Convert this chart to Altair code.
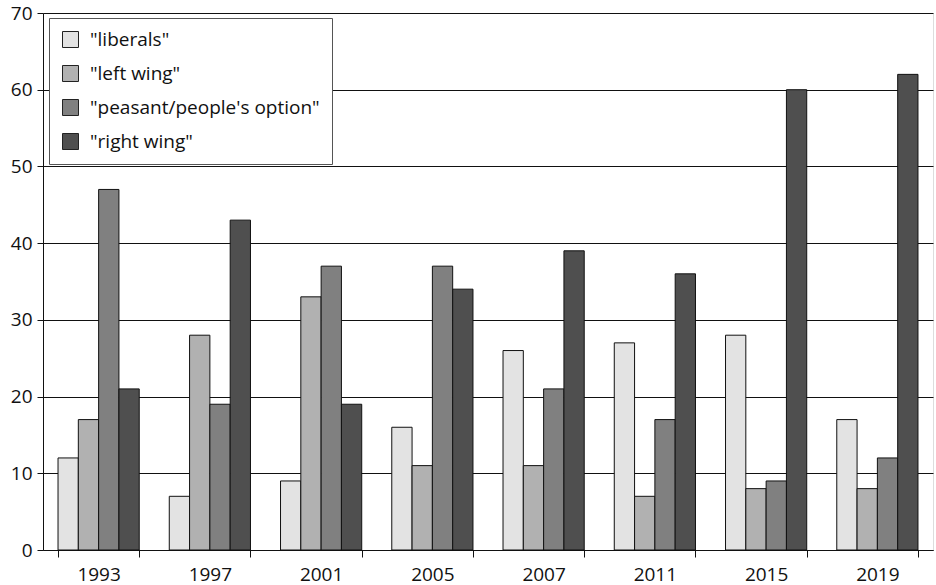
import altair as alt
import pandas as pd

years = ["1993", "1997", "2001", "2005", "2007", "2011", "2015", "2019"]
parties = ['"liberals"', '"left wing"', '"peasant/people\'s option"', '"right wing"']
liberals = [12, 7, 9, 16, 26, 27, 28, 17]
left_wing = [17, 28, 33, 11, 11, 7, 8, 8]
peasant = [47, 19, 37, 37, 21, 17, 9, 12]
right_wing = [21, 43, 19, 34, 39, 36, 60, 62]
colors = ["#e3e3e3", "#b1b1b1", "#808080", "#4f4f4f"]

rows = []
for name, series in zip(parties, [liberals, left_wing, peasant, right_wing]):
    for y, v in zip(years, series):
        rows.append({"year": y, "party": name, "value": v})
df = pd.DataFrame(rows)

FONT = "Open Sans"

chart = (
    alt.Chart(df)
    .mark_bar(stroke="#111111", strokeWidth=1)
    .encode(
        x=alt.X(
            "year:N",
            sort=years,
            title=None,
            scale=alt.Scale(paddingInner=0.27, paddingOuter=0.135),
            axis=alt.Axis(
                labelAngle=0,
                tickBand="extent",
                tickSize=7,
                labelPadding=8,
                labelFontSize=19,
                labelFont=FONT,
                labelColor="#111111",
                domainColor="#111111",
                tickColor="#111111",
            ),
        ),
        xOffset=alt.XOffset("party:N", sort=parties, scale=alt.Scale(paddingInner=0, paddingOuter=0)),
        y=alt.Y(
            "value:Q",
            title=None,
            scale=alt.Scale(domain=[0, 70], nice=False),
            axis=alt.Axis(
                values=[0, 10, 20, 30, 40, 50, 60, 70],
                grid=True,
                gridColor="#111111",
                gridWidth=1,
                tickSize=6,
                labelPadding=5,
                labelFontSize=19,
                labelFont=FONT,
                labelColor="#111111",
                domainColor="#111111",
                tickColor="#111111",
            ),
        ),
        fill=alt.Fill(
            "party:N",
            sort=parties,
            scale=alt.Scale(domain=parties, range=colors),
            legend=alt.Legend(
                title=None,
                orient="none",
                legendX=6,
                legendY=5,
                fillColor="white",
                strokeColor="#555555",
                padding=12,
                symbolType="square",
                symbolSize=256,
                symbolStrokeColor="#222222",
                symbolStrokeWidth=1,
                symbolOpacity=1,
                labelFontSize=19,
                labelFont=FONT,
                labelColor="#111111",
                labelOffset=10,
                rowPadding=13,
                labelLimit=400,
            ),
        ),
    )
    .properties(
        width=890,
        height=537,
        autosize=alt.AutoSizeParams(type="none"),
        padding={"left": 43, "top": 13, "right": 3, "bottom": 35},
    )
    .configure_view(stroke="#111111", strokeWidth=1)
    .configure(background="white")
)

chart.save("out.html", embed_options={"renderer": "svg", "actions": False})
